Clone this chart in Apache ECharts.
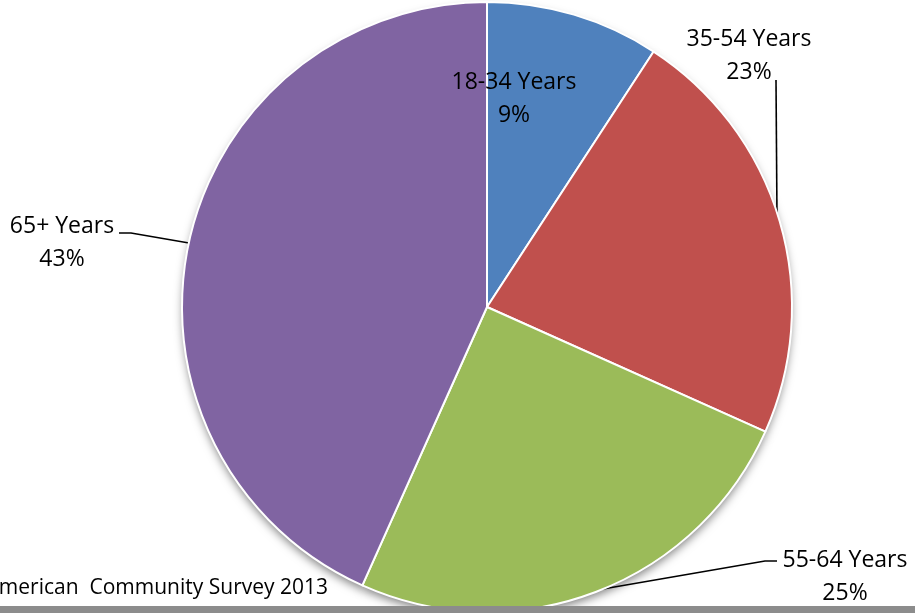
<!DOCTYPE html>
<html>
<head>
<meta charset="utf-8">
<script src="https://cdn.jsdelivr.net/npm/echarts@6/dist/echarts.min.js"></script>
<style>
  html, body { margin: 0; padding: 0; background: #fff; }
  #chart { width: 915px; height: 613px; }
</style>
</head>
<body>
<div id="chart"></div>
<script>
const ageGroups = ["18-34 Years", "35-54 Years", "55-64 Years", "65+ Years"];
const shares = [9.2, 22.5, 25.0, 43.3];
const sliceColors = ["#4F81BD", "#C0504D", "#9BBB59", "#8064A2"];

// label centres and leader lines
const labelSpots = [
  { x: 514, y: 99, line: null },
  { x: 749, y: 56, line: [[777, 219], [776, 80], [776, 80]] },
  { x: 845, y: 577, line: [[597, 590], [765, 561], [777, 561]] },
  { x: 62, y: 243, line: [[189, 243], [131, 233], [119, 233]] }
];

const chart = echarts.init(document.getElementById("chart"), null, { renderer: "canvas" });

const pieData = ageGroups.map((name, i) => ({
  name,
  value: shares[i],
  itemStyle: { color: sliceColors[i] },
  labelLine: { show: labelSpots[i].line !== null }
}));

chart.setOption({
  animation: false,
  backgroundColor: "#ffffff",
  textStyle: { fontFamily: "Open Sans" },
  graphic: [
    {
      type: "text",
      right: 915 - 328,
      top: 578,
      z: 10,
      style: {
        text: "Source: American  Community Survey 2013",
        fill: "#000",
        font: "21px 'Open Sans'"
      }
    },
    {
      type: "rect",
      left: 0,
      top: 606,
      z: 20,
      shape: { width: 915, height: 7 },
      style: { fill: "#8c8c8c" }
    }
  ],
  series: [
    {
      // backing disc that carries the soft shadow
      type: "pie",
      silent: true,
      center: [487, 307],
      radius: 304,
      startAngle: 90,
      z: 1,
      data: shares.map(v => ({ value: v })),
      label: { show: false },
      labelLine: { show: false },
      itemStyle: {
        color: "#ffffff",
        shadowBlur: 10,
        shadowOffsetY: 5,
        shadowColor: "rgba(0,0,0,0.5)"
      }
    },
    {
      type: "pie",
      center: [487, 307],
      radius: 305,
      startAngle: 90,
      clockwise: true,
      z: 2,
      avoidLabelOverlap: false,
      data: pieData,
      itemStyle: { borderColor: "#ffffff", borderWidth: 2 },
      label: {
        show: true,
        position: "outside",
        formatter: p => p.name + "\n" + Math.round(p.value) + "%",
        color: "#000",
        fontFamily: "Open Sans",
        fontSize: 23,
        lineHeight: 33,
        align: "center"
      },
      labelLine: {
        show: true,
        lineStyle: { color: "#000", width: 1.6 }
      },
      labelLayout: function (params) {
        const spot = labelSpots[params.dataIndex];
        const out = { x: spot.x, y: spot.y, align: "center", verticalAlign: "middle" };
        if (spot.line) out.labelLinePoints = spot.line;
        return out;
      }
    }
  ]
});
</script>
</body>
</html>
